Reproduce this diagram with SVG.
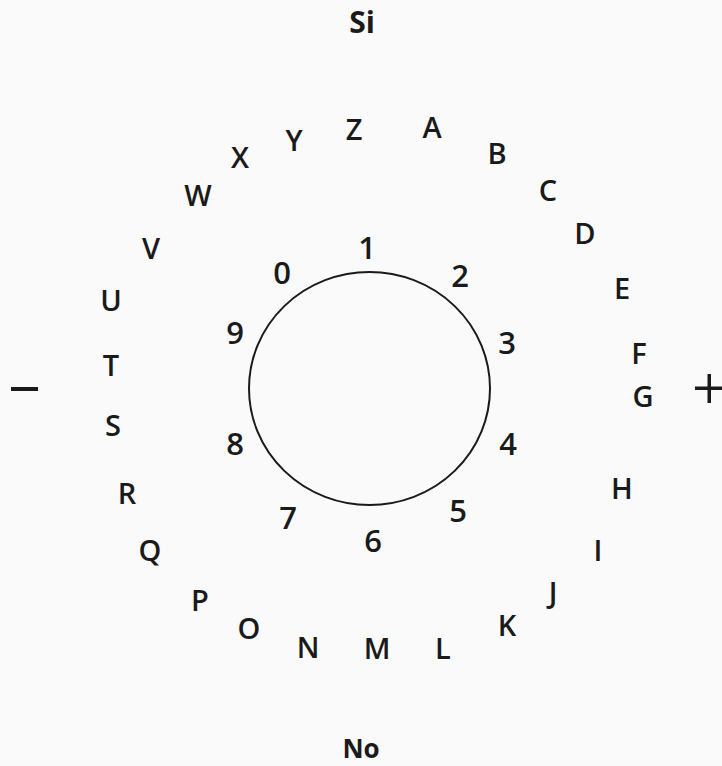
<svg xmlns="http://www.w3.org/2000/svg" width="722" height="766" viewBox="0 0 722 766">
<style>
text{font-family:"Open Sans","Liberation Sans",sans-serif;font-weight:600;fill:#1a1a1a;text-anchor:middle}
.l{font-size:29px}
.d{font-size:31px}
.w{font-size:30px;font-weight:700}
</style>
<rect width="722" height="766" fill="#fafafa"/>
<g id="board">
<ellipse cx="369.5" cy="388.5" rx="120.5" ry="116.5" fill="none" stroke="#1a1a1a" stroke-width="2"/>
</g>
<g id="signs" fill="#1a1a1a">
<rect x="11" y="387" width="27" height="4"/>
<rect x="695" y="386.5" width="27" height="3.5"/>
<rect x="707.5" y="374" width="3.5" height="29"/>
</g>
<g id="words">
<text class="w" x="362" y="33">Si</text>
<text class="w" x="361" y="758" style="font-size:26px">No</text>
</g>
<g id="letters">
<text class="l" x="432" y="138">A</text>
<text class="l" x="497" y="164">B</text>
<text class="l" x="548" y="201">C</text>
<text class="l" x="585" y="244">D</text>
<text class="l" x="622" y="299">E</text>
<text class="l" x="639" y="364">F</text>
<text class="l" x="643" y="407">G</text>
<text class="l" x="622" y="499">H</text>
<text class="l" x="598" y="561">I</text>
<text class="l" x="553" y="603">J</text>
<text class="l" x="507" y="636">K</text>
<text class="l" x="443" y="659">L</text>
<text class="l" x="377" y="659">M</text>
<text class="l" x="308" y="658">N</text>
<text class="l" x="249" y="639">O</text>
<text class="l" x="200" y="611">P</text>
<text class="l" x="150" y="561">Q</text>
<text class="l" x="127" y="504">R</text>
<text class="l" x="113" y="436">S</text>
<text class="l" x="111" y="376">T</text>
<text class="l" x="111" y="311">U</text>
<text class="l" x="151" y="259">V</text>
<text class="l" x="198" y="206">W</text>
<text class="l" x="240" y="168">X</text>
<text class="l" x="294" y="151">Y</text>
<text class="l" x="354" y="140">Z</text>
</g>
<g id="digits">
<text class="d" x="367" y="259">1</text>
<text class="d" x="460" y="287">2</text>
<text class="d" x="507" y="354">3</text>
<text class="d" x="508" y="455">4</text>
<text class="d" x="458" y="522">5</text>
<text class="d" x="373" y="552">6</text>
<text class="d" x="288" y="529">7</text>
<text class="d" x="235" y="455">8</text>
<text class="d" x="235" y="344">9</text>
<text class="d" x="282" y="284">0</text>
</g>
</svg>
